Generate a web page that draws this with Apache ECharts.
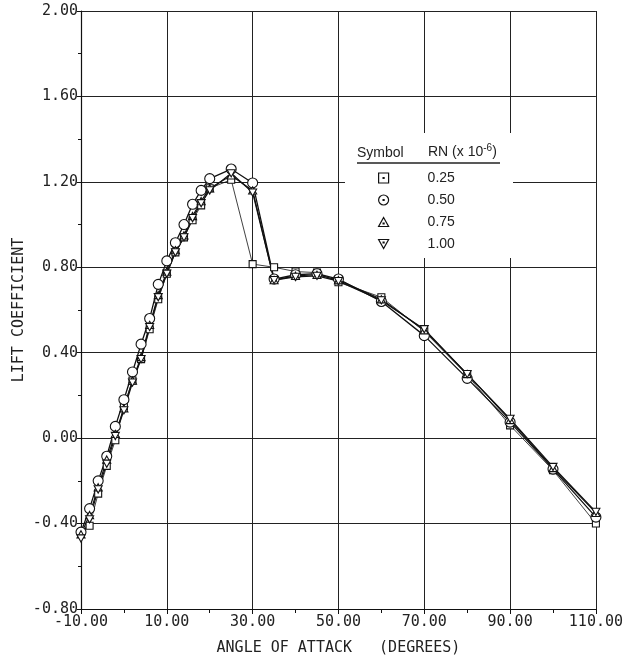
<!DOCTYPE html>
<html>
<head>
<meta charset="utf-8">
<script src="https://cdn.jsdelivr.net/npm/echarts@6/dist/echarts.min.js"></script>
<style>html,body{margin:0;padding:0;background:#fff}#c{width:626px;height:661px}</style>
</head>
<body>
<div id="c"></div>
<script>
// Angle of attack (degrees)
var angles = [-10,-8,-6,-4,-2,0,2,4,6,8,10,12,14,16,18,20,25,30,35,40,45,50,60,70,80,90,100,110];
// Lift coefficient for each Reynolds number (x 10^6)
var cl025 = [-0.44,-0.41,-0.26,-0.13,-0.01,0.15,0.27,0.37,0.51,0.65,0.77,0.87,0.94,1.02,1.09,1.17,1.21,0.815,0.80,0.78,0.775,0.73,0.66,0.50,0.295,0.06,-0.15,-0.40];
var cl050 = [-0.44,-0.33,-0.20,-0.085,0.055,0.18,0.31,0.44,0.56,0.72,0.83,0.915,1.00,1.095,1.16,1.215,1.26,1.195,0.745,0.765,0.77,0.745,0.64,0.48,0.28,0.075,-0.145,-0.37];
var cl075 = [-0.45,-0.36,-0.23,-0.10,0.02,0.14,0.27,0.38,0.53,0.67,0.78,0.88,0.95,1.04,1.11,1.17,1.23,1.16,0.74,0.76,0.765,0.74,0.65,0.505,0.30,0.085,-0.14,-0.35];
var cl100 = [-0.47,-0.38,-0.24,-0.12,0.01,0.13,0.26,0.37,0.52,0.66,0.77,0.87,0.94,1.03,1.10,1.16,1.24,1.15,0.74,0.755,0.76,0.735,0.645,0.51,0.30,0.09,-0.135,-0.345];
var seriesNames = ['0.25','0.50','0.75','1.00'];

function pairs(ys){ return angles.map(function(a,i){ return [a, ys[i]]; }); }

var symSquare = 'path://M0,0H10V10H0Z';
var symCircle = 'path://M5,0A5,5,0,1,1,5,10A5,5,0,1,1,5,0Z';
var symTri = 'path://M5,0L10,9L0,9Z';
var symInv = 'path://M0,0L10,0L5,9Z';
var legSquare = 'path://M0,0H10V10H0Z M4.5,4.5H5.5V5.5H4.5Z';
var legCircle = 'path://M5,0A5,5,0,1,1,5,10A5,5,0,1,1,5,0Z M4.5,4.5H5.5V5.5H4.5Z';
var legTri = 'path://M5,0L10,9L0,9Z M4.5,5.5H5.5V6.5H4.5Z';
var legInv = 'path://M0,0L10,0L5,9Z M4.5,2.5H5.5V3.5H4.5Z';

var mono = 'DejaVu Sans Mono';
var chart = echarts.init(document.getElementById('c'), null, {renderer:'canvas'});

function mk(name, data, sym, size, lw){
  return {
    name: name, type: 'line', data: pairs(data),
    symbol: sym, symbolSize: size, symbolKeepAspect: true,
    showAllSymbol: true,
    lineStyle: {color:'#111', width: lw},
    itemStyle: {color:'#fff', borderColor:'#111', borderWidth:1.1},
    emphasis: {disabled:true},
    animation: false, z: 3
  };
}

chart.setOption({
  backgroundColor: '#fff',
  animation: false,
  grid: {left: 81, right: 27, top: 11, bottom: 50},
  xAxis: {
    type: 'value', min: -10, max: 110, interval: 20,
    name: 'ANGLE OF ATTACK   (DEGREES)', nameLocation: 'middle', nameGap: 32,
    nameTextStyle: {fontFamily: mono, fontSize: 15, color:'#222'},
    axisLine: {onZero:false, lineStyle:{color:'#111', width:1.2}},
    axisTick: {show:true, length:5, lineStyle:{color:'#111'}},
    minorTick: {show:true, splitNumber:2, length:4, lineStyle:{color:'#111'}},
    axisLabel: {fontFamily: mono, fontSize: 15, color:'#222', margin: 6,
      formatter: function(v){ return v.toFixed(2); }},
    splitLine: {show:true, lineStyle:{color:'#222', width:1}}
  },
  yAxis: {
    type: 'value', min: -0.8, max: 2.0, interval: 0.4,
    name: 'LIFT COEFFICIENT', nameLocation: 'middle', nameGap: 54, nameRotate: 90,
    nameMoveOverlap: false,
    nameTextStyle: {fontFamily: mono, fontSize: 15, color:'#222'},
    axisLine: {onZero:false, lineStyle:{color:'#111', width:1.2}},
    axisTick: {show:true, length:4, lineStyle:{color:'#111'}},
    minorTick: {show:true, splitNumber:2, length:3, lineStyle:{color:'#111'}},
    axisLabel: {fontFamily: mono, fontSize: 15, color:'#222', margin: 3,
      formatter: function(v){ return v.toFixed(2); }},
    splitLine: {show:true, lineStyle:{color:'#222', width:1}}
  },
  legend: {
    orient: 'vertical', left: 378, top: 170,
    padding: 0,
    itemWidth: 10, itemHeight: 10, itemGap: 6,
    selectedMode: false,
    textStyle: {fontFamily: 'Liberation Sans', fontSize: 14, color:'#222', lineHeight: 16, padding: [0,0,0,34]},
    itemStyle: {color:'#fff', borderColor:'#111', borderWidth:1.2},
    data: [
      {name: seriesNames[0], icon: legSquare},
      {name: seriesNames[1], icon: legCircle},
      {name: seriesNames[2], icon: legTri},
      {name: seriesNames[3], icon: legInv}
    ],
    z: 10
  },
  graphic: [
    {type:'rect', z: 5, shape:{x:345, y:133, width:168, height:125}, style:{fill:'#fff'}},
    {type:'text', left: 357, top: 146, z: 100,
     style:{text:'Symbol', font:'14px "Liberation Sans"', fill:'#222'}},
    {type:'text', left: 428, top: 143, z: 100,
     style:{text:'RN (x 10{sup|-6})', font:'14px "Liberation Sans"', fill:'#222',
       rich:{sup:{fontSize:10, fontFamily:'Liberation Sans', verticalAlign:'top', padding:[0,0,8,0]}}}},
    {type:'line', z: 100, shape:{x1:357, y1:163, x2:500, y2:163}, style:{stroke:'#222', lineWidth:1.5}}
  ],
  series: [
    mk(seriesNames[0], cl025, symSquare, 7, 0.8),
    mk(seriesNames[1], cl050, symCircle, 10, 1.3),
    mk(seriesNames[2], cl075, symTri, 8, 1.2),
    mk(seriesNames[3], cl100, symInv, 8, 1.2)
  ]
});
</script>
</body>
</html>
